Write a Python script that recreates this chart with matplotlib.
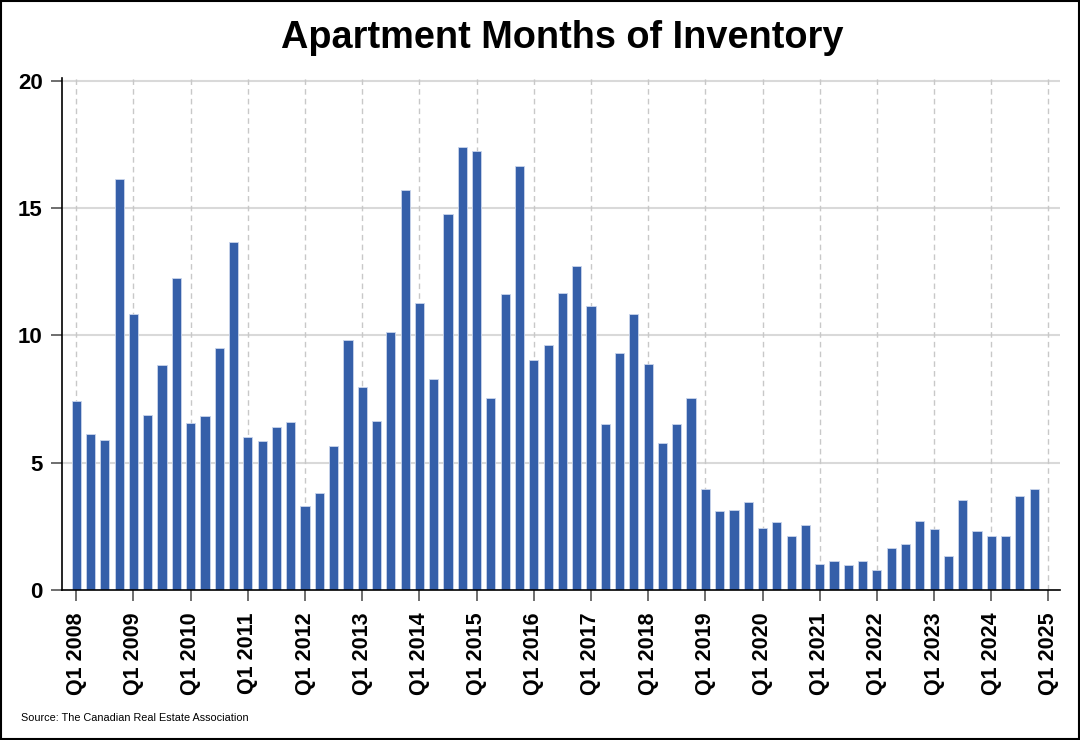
import matplotlib
matplotlib.use("Agg")
import matplotlib.pyplot as plt
from matplotlib.patches import Rectangle
import numpy as np

plt.rcParams["font.family"] = ["Liberation Sans", "DejaVu Sans"]

# ── Données (trimestrielles, Q1 2008 → Q4 2024) ──────────────────────────────
years = list(range(2008, 2026))
tick_labels = [f"Q1 {y}" for y in years]
months_inventory = [
    7.42, 6.12, 5.89, 16.15,   # 2008
    10.84, 6.87, 8.83, 12.24,  # 2009
    6.56, 6.84, 9.51, 13.66,   # 2010
    6.01, 5.86, 6.42, 6.60,    # 2011
    3.29, 3.82, 5.65, 9.83,    # 2012
    7.99, 6.64, 10.15, 15.71,  # 2013
    11.29, 8.28, 14.79, 17.39, # 2014
    17.23, 7.54, 11.62, 16.67, # 2015
    9.04, 9.63, 11.66, 12.74,  # 2016
    11.16, 6.51, 9.32, 10.85,  # 2017
    8.88, 5.77, 6.51, 7.54,    # 2018
    3.98, 3.09, 3.14, 3.46,    # 2019
    2.42, 2.66, 2.12, 2.57,    # 2020
    1.03, 1.15, 1.00, 1.15,    # 2021
    0.80, 1.65, 1.80, 2.70,    # 2022
    2.38, 1.34, 3.52, 2.33,    # 2023
    2.14, 2.12, 3.68, 3.98,    # 2024
]

BAR_COLOR = "#355fa9"
GRID_COLOR = "#d9d9d9"

fig = plt.figure(figsize=(10.8, 7.4), dpi=100)
ax = fig.add_axes([0.0574, 0.2027, 0.924, 0.6913])

x = np.arange(len(months_inventory))
ax.bar(x, months_inventory, width=0.64, color=BAR_COLOR,
       edgecolor="#c9d5ec", linewidth=0.6, zorder=3)

# grille : horizontale pleine, verticale en tirets à chaque Q1
for v in [5, 10, 15, 20]:
    ax.axhline(v, color=GRID_COLOR, lw=1.5, zorder=1)
tick_pos = np.arange(0, 4 * len(years), 4)
for p in tick_pos:
    ax.axvline(p, color="#c8c8c8", lw=1.0, ls=(0, (4, 3)), zorder=1)

ax.set_xlim(-1.0, 68.8)
ax.set_ylim(0, 20.1)
ax.set_xticks(tick_pos)
ax.set_xticklabels(tick_labels, rotation=90, fontsize=15.5, fontweight="bold")
ax.set_yticks([0, 5, 10, 15, 20])
ax.set_yticklabels(["0", "5", "10", "15", "20"], fontsize=16, fontweight="bold")
ax.tick_params(axis="x", length=8, width=1.2, color="#555555", pad=8)
ax.tick_params(axis="y", length=8, width=1.2, color="#555555", pad=6)

for s in ["top", "right"]:
    ax.spines[s].set_visible(False)
for s in ["left", "bottom"]:
    ax.spines[s].set_linewidth(1.2)
    ax.spines[s].set_zorder(5)

fig.text(0.521, 1 - 38 / 740, "Apartment Months of Inventory",
         ha="center", va="center", fontsize=27.3, fontweight="bold")
fig.text(21 / 1080, 1 - 718 / 740, "Source: The Canadian Real Estate Association",
         ha="left", va="center", fontsize=7.8)

fig.patches.append(Rectangle((0.001, 0.001), 0.998, 0.998, transform=fig.transFigure,
                             fill=False, edgecolor="black", linewidth=1.5))

fig.savefig("out.png", dpi=100)
